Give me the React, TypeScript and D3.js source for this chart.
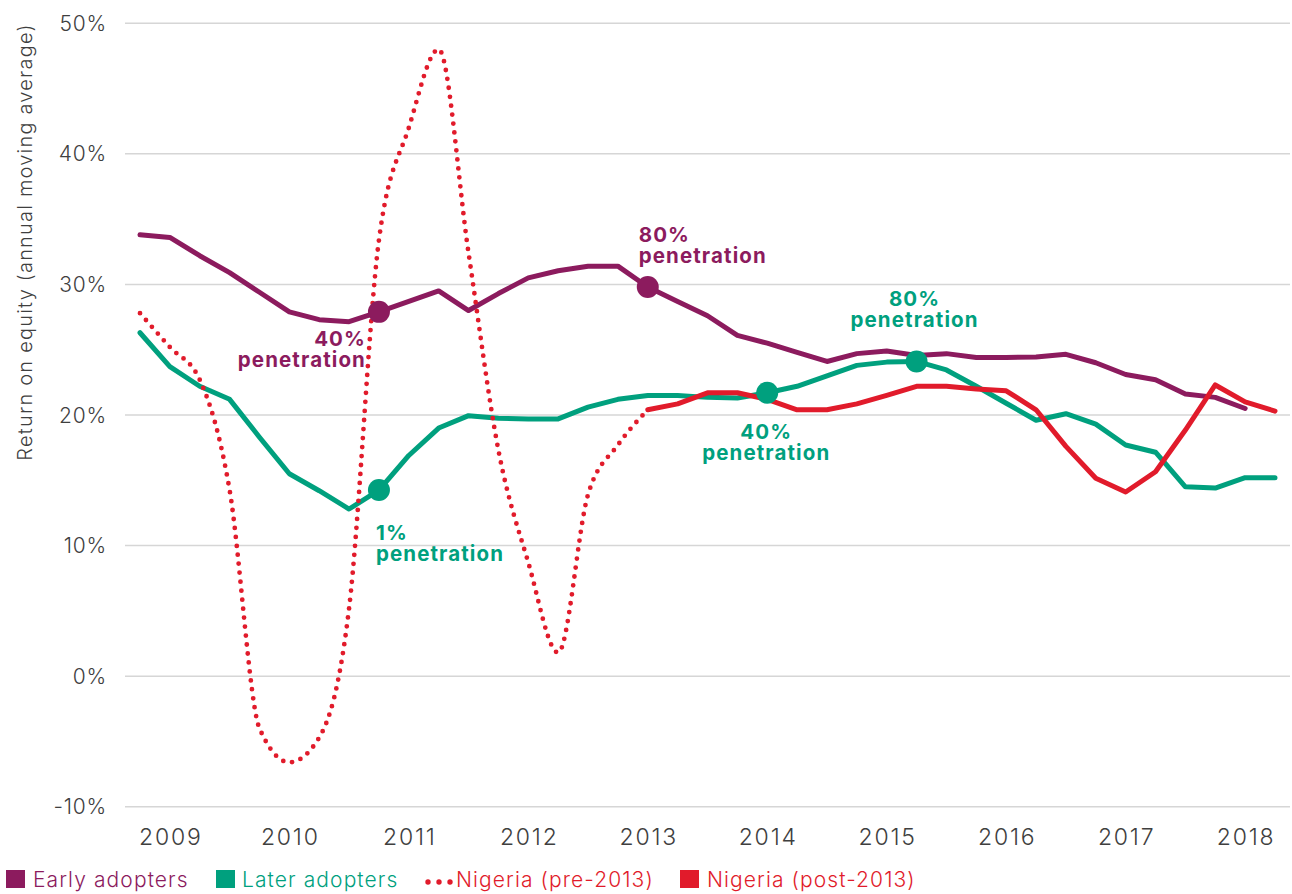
import React from 'react';
import * as d3 from 'd3';

// quarterly observations, 2008 Q4 to 2018 Q2
const quarters = [
  '2008Q4',
  '2009Q1', '2009Q2', '2009Q3', '2009Q4',
  '2010Q1', '2010Q2', '2010Q3', '2010Q4',
  '2011Q1', '2011Q2', '2011Q3', '2011Q4',
  '2012Q1', '2012Q2', '2012Q3', '2012Q4',
  '2013Q1', '2013Q2', '2013Q3', '2013Q4',
  '2014Q1', '2014Q2', '2014Q3', '2014Q4',
  '2015Q1', '2015Q2', '2015Q3', '2015Q4',
  '2016Q1', '2016Q2', '2016Q3', '2016Q4',
  '2017Q1', '2017Q2', '2017Q3', '2017Q4',
  '2018Q1', '2018Q2',
];

const yearTicks = ['2009Q1', '2010Q1', '2011Q1', '2012Q1', '2013Q1', '2014Q1', '2015Q1', '2016Q1', '2017Q1', '2018Q1'];
const yearLabels = ['2009', '2010', '2011', '2012', '2013', '2014', '2015', '2016', '2017', '2018'];
const yTicks = [-10, 0, 10, 20, 30, 40, 50];

// return on equity, %
const earlyAdopters: (number | null)[] = [
  33.8, 33.6, 32.2, 30.9, 29.4, 27.9, 27.3, 27.15, 27.9, 28.7,
  29.5, 28.0, 29.3, 30.5, 31.05, 31.4, 31.4, 29.8, 28.7, 27.6,
  26.1, 25.5, 24.8, 24.1, 24.7, 24.9, 24.55, 24.7, 24.4, 24.4,
  24.45, 24.65, 24.0, 23.1, 22.7, 21.6, 21.35, 20.5, null,
];

const laterAdopters: (number | null)[] = [
  26.3, 23.7, 22.2, 21.2, 18.3, 15.5, 14.2, 12.8, 14.25, 16.9,
  19.0, 19.95, 19.75, 19.7, 19.7, 20.6, 21.2, 21.5, 21.5, 21.35,
  21.3, 21.7, 22.2, 23.0, 23.8, 24.05, 24.1, 23.45, 22.2, 20.9,
  19.6, 20.1, 19.3, 17.7, 17.15, 14.5, 14.4, 15.2, 15.2,
];

const nigeriaPre: (number | null)[] = [
  27.8, 25.2, 22.7, 14.25, -4.0, -6.6, -4.7, 5.2, 33.4, 42.0,
  48.0, 32.4, 17.3, 8.7, 1.8, 13.9, 17.7, 20.4, null, null,
  null, null, null, null, null, null, null, null, null, null,
  null, null, null, null, null, null, null, null, null,
];

const nigeriaPost: (number | null)[] = [
  null, null, null, null, null, null, null, null, null, null,
  null, null, null, null, null, null, null, 20.4, 20.85, 21.7,
  21.7, 21.2, 20.4, 20.4, 20.85, 21.5, 22.2, 22.2, 22.0, 21.85,
  20.4, 17.6, 15.15, 14.1, 15.65, 18.85, 22.3, 21.0, 20.3,
];

const annotations = [
  { id: 'early40', series: 'early', quarter: '2010Q4', lines: ['40%', 'penetration'] },
  { id: 'early80', series: 'early', quarter: '2013Q1', lines: ['80%', 'penetration'] },
  { id: 'later1', series: 'later', quarter: '2010Q4', lines: ['1%', 'penetration'] },
  { id: 'later40', series: 'later', quarter: '2014Q1', lines: ['40%', 'penetration'] },
  { id: 'later80', series: 'later', quarter: '2015Q2', lines: ['80%', 'penetration'] },
];

const PURPLE = '#8C1B5E';
const GREEN = '#00A07E';
const RED = '#E11B2B';
const TEXT = '#3f3f3f';
const FONT = 'Inter, "Open Sans", sans-serif';

// label placement relative to the marker
const labelLayout: Record<string, { dx: number; dy: number; anchor: string }> = {
  early40: { dx: -13, dy: 34, anchor: 'end' },
  early80: { dx: -9, dy: -45, anchor: 'start' },
  later1: { dx: -3, dy: 50, anchor: 'start' },
  later40: { dx: -1, dy: 46, anchor: 'middle' },
  later80: { dx: -2, dy: -55, anchor: 'middle' },
};

export default function App() {
  const width = 1292;
  const height = 894;

  const x = d3.scalePoint<string>().domain(quarters).range([140, 1275]);
  const y = d3.scaleLinear().domain([-10, 50]).range([806.7, 23.3]);

  const line = d3
    .line<number | null>()
    .defined((d) => d !== null)
    .x((_, i) => x(quarters[i]) as number)
    .y((d) => y(d as number));

  const smooth = d3
    .line<number | null>()
    .defined((d) => d !== null)
    .x((_, i) => x(quarters[i]) as number)
    .y((d) => y(d as number))
    .curve(d3.curveMonotoneX);

  const seriesMap: Record<string, { values: (number | null)[]; color: string }> = {
    early: { values: earlyAdopters, color: PURPLE },
    later: { values: laterAdopters, color: GREEN },
  };

  return (
    <svg
      width={width}
      height={height}
      style={{ position: 'absolute', left: 0, top: 0, display: 'block', fontFamily: FONT }}
    >
      <rect width={width} height={height} fill="#fff" />

      {/* gridlines + y labels */}
      {yTicks.map((t) => (
        <g key={t}>
          <line x1={125} x2={1290} y1={y(t)} y2={y(t)} stroke="#d6d6d6" strokeWidth={1.5} />
          <text
            x={107}
            y={y(t)}
            dy="0.36em"
            textAnchor="end"
            fontSize={21}
            letterSpacing={0.8}
            fill={TEXT}
            fontWeight={300}
          >
            {`${t}%`}
          </text>
        </g>
      ))}

      {/* x labels */}
      {yearTicks.map((q, i) => (
        <text
          key={q}
          x={(x(q) as number) + 1}
          y={845}
          textAnchor="middle"
          fontSize={23}
          letterSpacing={1.8}
          fill={TEXT}
          fontWeight={300}
        >
          {yearLabels[i]}
        </text>
      ))}

      <text
        transform="translate(32,242) rotate(-90)"
        textAnchor="middle"
        fontSize={20}
        letterSpacing={1.2}
        fill={TEXT}
        fontWeight={300}
      >
        Return on equity (annual moving average)
      </text>

      {/* lines */}
      <path d={line(laterAdopters) || ''} fill="none" stroke={GREEN} strokeWidth={5} strokeLinejoin="round" strokeLinecap="round" />
      <path d={line(earlyAdopters) || ''} fill="none" stroke={PURPLE} strokeWidth={5} strokeLinejoin="round" strokeLinecap="round" />
      <path d={line(nigeriaPost) || ''} fill="none" stroke={RED} strokeWidth={5} strokeLinejoin="round" strokeLinecap="round" />
      <path
        d={smooth(nigeriaPre) || ''}
        fill="none"
        stroke={RED}
        strokeWidth={4.8}
        strokeDasharray="0 9"
        strokeLinecap="round"
      />

      {/* penetration markers */}
      {annotations.map((a) => {
        const s = seriesMap[a.series];
        const idx = quarters.indexOf(a.quarter);
        const cx = x(a.quarter) as number;
        const cy = y(s.values[idx] as number);
        const l = labelLayout[a.id];
        return (
          <g key={a.id}>
            <circle cx={cx} cy={cy} r={11} fill={s.color} />
            <text
              textAnchor={l.anchor}
              fontSize={20.5}
              letterSpacing={1.1}
              fontWeight={700}
              fill={s.color}
            >
              <tspan x={cx + l.dx} y={cy + l.dy}>{a.lines[0]}</tspan>
              <tspan x={cx + l.dx} y={cy + l.dy + 21}>{a.lines[1]}</tspan>
            </text>
          </g>
        );
      })}

      {/* legend */}
      <g fontSize={21} fontWeight={300} letterSpacing={1.1}>
        <rect x={6} y={870} width={19} height={18} fill={PURPLE} />
        <text x={33} y={887} fill={PURPLE}>Early adopters</text>
        <rect x={216} y={870} width={19} height={18} fill={GREEN} />
        <text x={242} y={887} fill={GREEN}>Later adopters</text>
        {[428, 439, 450].map((cx) => (
          <circle key={cx} cx={cx} cy={882} r={2.7} fill={RED} />
        ))}
        <text x={456} y={887} fill={RED}>Nigeria (pre-2013)</text>
        <rect x={680} y={870} width={19} height={18} fill={RED} />
        <text x={707} y={887} fill={RED}>Nigeria (post-2013)</text>
      </g>
    </svg>
  );
}
